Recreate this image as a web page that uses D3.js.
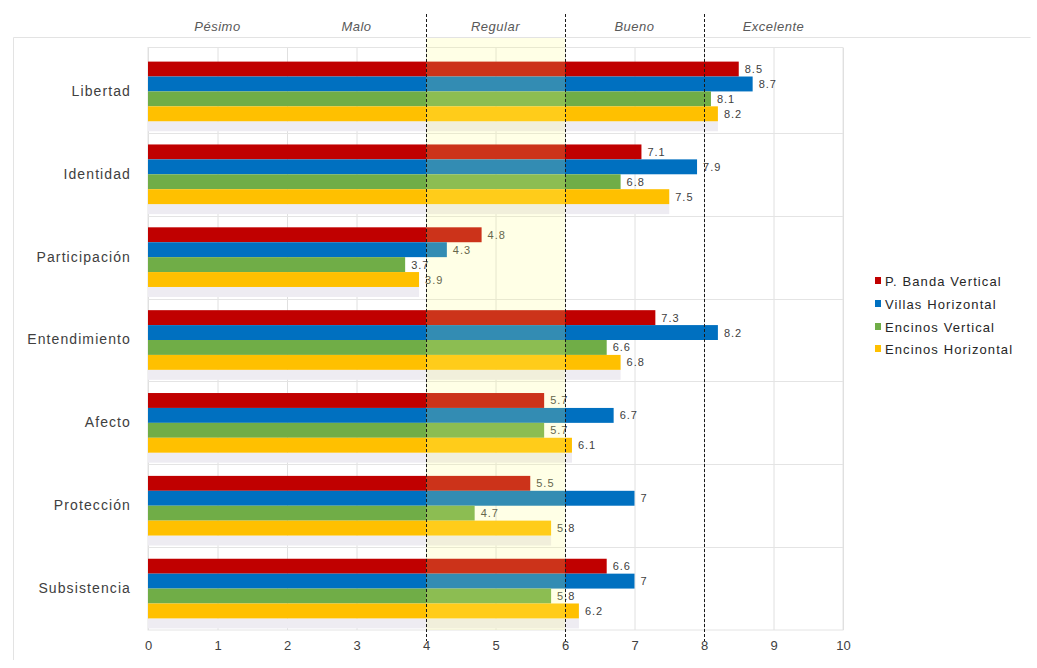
<!DOCTYPE html>
<html>
<head>
<meta charset="utf-8">
<script src="https://cdn.jsdelivr.net/npm/d3@7"></script>
<style>
  body { margin: 0; background: #fff; }
  text { font-family: "Liberation Sans", Arial, sans-serif; }
</style>
</head>
<body>
<svg id="chart" width="1037" height="668"></svg>
<script>
const categories = ["Libertad", "Identidad", "Participación", "Entendimiento", "Afecto", "Protección", "Subsistencia"];
const seriesNames = ["P. Banda Vertical", "Villas Horizontal", "Encinos Vertical", "Encinos Horizontal"];
const pBandaVertical   = [8.5, 7.1, 4.8, 7.3, 5.7, 5.5, 6.6];
const villasHorizontal = [8.7, 7.9, 4.3, 8.2, 6.7, 7.0, 7.0];
const encinosVertical  = [8.1, 6.8, 3.7, 6.6, 5.7, 4.7, 5.8];
const encinosHorizontal= [8.2, 7.5, 3.9, 6.8, 6.1, 5.8, 6.2];
const seriesColors = ["#c00000", "#0070c0", "#70ad47", "#ffc000"];
const xTicks = [0,1,2,3,4,5,6,7,8,9,10];
const zoneLabels = ["Pésimo", "Malo", "Regular", "Bueno", "Excelente"];
const zoneCenters = [1, 3, 5, 7, 9];
const zoneBounds = [4, 6, 8];

const seriesValues = [pBandaVertical, villasHorizontal, encinosVertical, encinosHorizontal];

const svg = d3.select("#chart");
const plotLeft = 148, plotRight = 843, plotTop = 50, plotBottom = 630;

const x = d3.scaleLinear().domain([0, 10]).range([plotLeft, plotRight]);
const y = d3.scaleBand().domain(categories).range([plotTop, plotBottom]).paddingInner(0.28).paddingOuter(0.14);
const yInner = d3.scaleBand().domain(seriesNames).range([0, y.bandwidth()]);

// chart border
svg.append("path").attr("d", `M13.5,660 L13.5,37.5 L1030.5,37.5`).attr("fill", "none").attr("stroke", "#e3e3e3");

// plot area border
svg.append("rect").attr("x", plotLeft).attr("y", 47.5).attr("width", plotRight - plotLeft).attr("height", plotBottom - 47.5)
  .attr("fill", "#fff").attr("stroke", "#e4e4e4");

// vertical gridlines
svg.append("g").selectAll("line").data(xTicks).join("line")
  .attr("x1", d => x(d) + 0.5).attr("x2", d => x(d) + 0.5)
  .attr("y1", 48).attr("y2", plotBottom)
  .attr("stroke", "#e0e0e0");

// horizontal separators between categories
svg.append("g").selectAll("line").data(categories.slice(1)).join("line")
  .attr("x1", plotLeft).attr("x2", plotRight)
  .attr("y1", d => Math.round(y(d) - y.step() * 0.14) + 0.5)
  .attr("y2", d => Math.round(y(d) - y.step() * 0.14) + 0.5)
  .attr("stroke", "#e4e4e4");

// bar shadows (below last bar of each group)
svg.append("g").selectAll("rect").data(categories).join("rect")
  .attr("x", plotLeft)
  .attr("y", d => y(d) + y.bandwidth())
  .attr("width", (d, i) => x(encinosHorizontal[i]) - plotLeft)
  .attr("height", 10)
  .attr("fill", "#eeecf2");

// bars
const groups = svg.append("g").selectAll("g").data(categories).join("g")
  .attr("transform", d => `translate(0,${y(d)})`);

groups.selectAll("rect").data((d, i) => seriesValues.map((s, k) => ({ v: s[i], k }))).join("rect")
  .attr("x", plotLeft)
  .attr("y", d => yInner(seriesNames[d.k]))
  .attr("width", d => x(d.v) - plotLeft)
  .attr("height", yInner.bandwidth())
  .attr("fill", d => seriesColors[d.k]);

// regular zone overlay
svg.append("rect").attr("x", x(4)).attr("y", 38).attr("width", x(6) - x(4)).attr("height", plotBottom - 38)
  .attr("fill", "#ffff80").attr("opacity", 0.2);

// value labels
groups.selectAll("text").data((d, i) => seriesValues.map((s, k) => ({ v: s[i], k }))).join("text")
  .attr("x", d => x(d.v) + 6)
  .attr("y", d => yInner(seriesNames[d.k]) + yInner.bandwidth() / 2 + 4)
  .attr("font-size", 11).attr("letter-spacing", 1).attr("fill", "#404040")
  .text(d => d.v);

// dashed zone lines
svg.append("g").selectAll("line").data(zoneBounds).join("line")
  .attr("x1", d => x(d) + 0.5).attr("x2", d => x(d) + 0.5)
  .attr("y1", 14).attr("y2", 641)
  .attr("stroke", "#1a1a1a").attr("stroke-dasharray", "3,2");

// zone labels
svg.append("g").selectAll("text").data(zoneLabels).join("text")
  .attr("x", (d, i) => x(zoneCenters[i]))
  .attr("y", 31)
  .attr("text-anchor", "middle")
  .attr("font-size", 13).attr("font-style", "italic").attr("letter-spacing", 0.5)
  .attr("fill", "#595959")
  .text(d => d);

// x axis ticks
const xAxis = d3.axisBottom(x).tickValues(xTicks).tickSize(0).tickPadding(0).tickFormat(d3.format("d"));
const gx = svg.append("g").attr("transform", `translate(0,${plotBottom + 8})`).call(xAxis);
gx.select(".domain").remove();
gx.selectAll("text").attr("font-size", 13).attr("fill", "#404040").attr("dy", "0.9em")
  .style("font-family", '"Liberation Sans", Arial, sans-serif');

// category labels
const yAxis = d3.axisLeft(y).tickSize(0).tickPadding(0);
const gy = svg.append("g").attr("transform", `translate(131,0)`).call(yAxis);
gy.select(".domain").remove();
gy.selectAll("text").attr("font-size", 14).attr("letter-spacing", 1.1).attr("fill", "#404040")
  .style("font-family", '"Liberation Sans", Arial, sans-serif');

// legend
const legendY = [281, 304, 327, 349];
const lg = svg.append("g").selectAll("g").data(seriesNames).join("g")
  .attr("transform", (d, i) => `translate(875,${legendY[i]})`);
lg.append("rect").attr("x", 0).attr("y", -4).attr("width", 6).attr("height", 7)
  .attr("fill", (d, i) => seriesColors[i]);
lg.append("text").attr("x", 10).attr("y", 4.5)
  .attr("font-size", 13).attr("letter-spacing", 1.1).attr("fill", "#262626")
  .text(d => d);
</script>
</body>
</html>
